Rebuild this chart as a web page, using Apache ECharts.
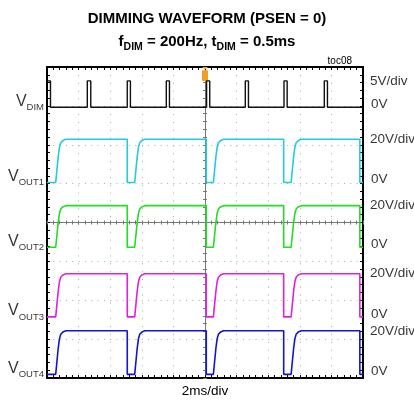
<!DOCTYPE html>
<html><head><meta charset="utf-8">
<script src="https://cdn.jsdelivr.net/npm/echarts@6/dist/echarts.min.js"></script>
<style>html,body{margin:0;padding:0;background:#fff}#c{width:414px;height:403px}</style>
</head><body><div id="c"></div>
<script>
const FONT = '"Liberation Sans",Arial,sans-serif';

// ---- data ----
const traceNames   = ['DIM', 'OUT1', 'OUT2', 'OUT3', 'OUT4'];
const voltsPerDiv  = [5, 20, 20, 20, 20];
const zeroLevelDiv = [6.963, 5.03, 3.363, 1.572, 0.094];   // 0V marker of each trace, in divisions from bottom
const highVolts    = [3.4, 22.2, 21.4, 22.2, 22.4];
const scaleLabels  = ['5V/div', '20V/div', '20V/div', '20V/div', '20V/div'];
const zeroLabels   = ['0V', '0V', '0V', '0V', '0V'];

// V_DIM pulses: [rise ms, fall ms]
const vdimPulses = [[0, 0.22], [2.55, 2.77], [5.08, 5.28], [7.55, 7.75], [10.1, 10.3], [12.55, 12.75], [15.0, 15.2], [17.55, 17.75]];
// outputs: switch-off (fall) and switch-on (rise) instants, ms
const outRiseTimes = [0.55, 5.55, 10.53, 15.45];
const outFallTimes = [5.08, 10.08, 14.98, 19.8];
// rising edge shape: [ms after switch-on, fraction of final level]
const riseProfile = [[0, 0], [0.08, 0.3], [0.16, 0.6], [0.24, 0.82], [0.32, 0.92], [0.45, 0.97], [0.65, 1]];

const timeSpanMs = 20;   // 10 div x 2ms/div
const totalDivs = 8;

// ---- styles ----
const traceColors = ['#111111', '#22ccdd', '#22dd22', '#dd22dd', '#1414d0'];

function toDiv(i, v) { return zeroLevelDiv[i] + v / voltsPerDiv[i]; }

function vdimPoints() {
  const h = highVolts[0], pts = [];
  vdimPulses.forEach(([a, b]) => {
    if (a > 0) pts.push([a, 0]);
    pts.push([a, h], [b, h], [b, 0]);
  });
  pts.push([timeSpanMs, 0]);
  return pts.map(p => [p[0], toDiv(0, p[1])]);
}
function outPoints(i) {
  const h = highVolts[i], pts = [[0, 0]];
  outRiseTimes.forEach((r, k) => {
    riseProfile.forEach(([dt, f]) => pts.push([r + dt, f * h]));
    const f = outFallTimes[k];
    pts.push([f, h], [f, 0]);
  });
  pts.push([timeSpanMs, 0]);
  return pts.map(p => [p[0], toDiv(i, p[1])]);
}

const traceSeries = traceNames.map((n, i) => ({
  type: 'line', name: n, xAxisIndex: 0, yAxisIndex: 0,
  data: i === 0 ? vdimPoints() : outPoints(i),
  showSymbol: false, symbol: 'none', animation: false, z: 5,
  lineStyle: { color: traceColors[i], width: i === 0 ? 1.4 : 1.6 },
  markPoint: i === 0 ? {
    symbol: 'path://M0,0 L10,0 L5,4 Z M1,5 L9,5 Q10,5 10,7 L10,20 Q10,22 8,22 L2,22 Q0,22 0,20 L0,7 Q0,5 1,5 Z',
    symbolSize: [6, 14], symbolOffset: [0, '50%'], silent: true,
    itemStyle: { color: '#f0a020' }, label: { show: false },
    data: [{ coord: [timeSpanMs / 2, totalDivs] }]
  } : undefined
}));

const subRich = {
  v: { fontFamily: FONT, fontSize: 16, color: '#000', lineHeight: 18, verticalAlign: 'bottom' },
  s: { fontFamily: FONT, fontSize: 9.5, color: '#000', lineHeight: 10, verticalAlign: 'bottom', padding: [0, 0, -3, 0] }
};

const leftLabelSeries = {
  type: 'scatter', xAxisIndex: 0, yAxisIndex: 0, symbolSize: 0, silent: true, clip: false, animation: false, z: 6,
  data: traceNames.map((n, i) => ({ value: [0, zeroLevelDiv[i]], sub: n })),
  label: { show: true, position: 'left', distance: 3, offset: [0, -7],
    formatter: p => '{v|V}{s|' + p.data.sub + '}', rich: subRich }
};
const rightScaleSeries = {
  type: 'scatter', xAxisIndex: 0, yAxisIndex: 0, symbolSize: 0, silent: true, clip: false, animation: false, z: 6,
  data: traceNames.map((n, i) => ({ value: [timeSpanMs, toDiv(i, highVolts[i])], t: scaleLabels[i] })),
  label: { show: true, position: 'right', distance: 7, formatter: p => p.data.t,
    fontFamily: FONT, fontSize: 13.5, color: '#000' }
};
const rightZeroSeries = {
  type: 'scatter', xAxisIndex: 0, yAxisIndex: 0, symbolSize: 0, silent: true, clip: false, animation: false, z: 6,
  data: traceNames.map((n, i) => ({ value: [timeSpanMs, zeroLevelDiv[i]], t: zeroLabels[i] })),
  label: { show: true, position: 'right', distance: 8, offset: [0, -3], formatter: p => p.data.t,
    fontFamily: FONT, fontSize: 13.5, color: '#000' }
};

const frameLine = { show: true, onZero: false, lineStyle: { color: '#000', width: 2 } };
const frameTick = { show: true, inside: true, length: 3, lineStyle: { color: '#000', width: 1 } };
const frameMinor = { show: true, splitNumber: 5, length: 3, lineStyle: { color: '#000', width: 1 } };
const noLabel = { show: false };
const centerLine = (idx) => ({ show: true, onZero: true, onZeroAxisIndex: idx, lineStyle: { color: '#777', width: 1 } });
const cTick = (inside) => ({ show: true, inside, length: 2, lineStyle: { color: '#777', width: 1 } });
const cMinor = { show: true, splitNumber: 5, length: 2, lineStyle: { color: '#777', width: 1 } };

const option = {
  backgroundColor: '#fff',
  animation: false,
  title: {
    left: 'center', top: 4,
    text: 'DIMMING WAVEFORM (PSEN = 0)\n{m|f}{s|DIM}{m| = 200Hz, t}{s|DIM}{m| = 0.5ms}',
    textStyle: {
      fontFamily: FONT, fontWeight: 'bold', fontSize: 15, lineHeight: 20, color: '#000',
      rich: {
        m: { fontFamily: FONT, fontWeight: 'bold', fontSize: 15, lineHeight: 20, verticalAlign: 'bottom', color: '#000' },
        s: { fontFamily: FONT, fontWeight: 'bold', fontSize: 10.5, lineHeight: 10, verticalAlign: 'bottom', padding: [0, 0, -4, 0], color: '#000' }
      }
    }
  },
  graphic: [{
    type: 'text', right: 62, top: 56,
    style: { text: 'toc08', font: '10px ' + FONT, fill: '#000' }
  }],
  grid: { left: 47, right: 51, top: 67, bottom: 22, show: false },
  xAxis: [
    { type: 'value', min: 0, max: timeSpanMs, interval: 2, position: 'bottom',
      axisLine: frameLine, axisTick: frameTick, minorTick: frameMinor, axisLabel: noLabel,
      splitLine: { show: true, lineStyle: { color: '#aaa', width: 1, type: [1, 6.85] } },
      name: '2ms/div', nameLocation: 'middle', nameGap: 6,
      nameTextStyle: { fontFamily: FONT, fontSize: 13.5, color: '#000', verticalAlign: 'top' } },
    { type: 'value', min: 0, max: timeSpanMs, interval: 2, position: 'top',
      axisLine: frameLine, axisTick: frameTick, minorTick: frameMinor, axisLabel: noLabel, splitLine: { show: false } },
    { type: 'value', min: -10, max: 10, interval: 2, position: 'bottom',
      axisLine: centerLine(2), axisTick: cTick(true), minorTick: cMinor, axisLabel: noLabel, splitLine: { show: false } },
    { type: 'value', min: -10, max: 10, interval: 2, position: 'bottom',
      axisLine: centerLine(2), axisTick: cTick(false), minorTick: cMinor, axisLabel: noLabel, splitLine: { show: false } }
  ],
  yAxis: [
    { type: 'value', min: 0, max: totalDivs, interval: 1, position: 'left',
      axisLine: frameLine, axisTick: frameTick, minorTick: frameMinor, axisLabel: noLabel,
      splitLine: { show: true, lineStyle: { color: '#aaa', width: 1, type: [1, 5.32] } } },
    { type: 'value', min: 0, max: totalDivs, interval: 1, position: 'right',
      axisLine: frameLine, axisTick: frameTick, minorTick: frameMinor, axisLabel: noLabel, splitLine: { show: false } },
    { type: 'value', min: -4, max: 4, interval: 1, position: 'left',
      axisLine: centerLine(2), axisTick: cTick(true), minorTick: cMinor, axisLabel: noLabel, splitLine: { show: false } },
    { type: 'value', min: -4, max: 4, interval: 1, position: 'left',
      axisLine: centerLine(2), axisTick: cTick(false), minorTick: cMinor, axisLabel: noLabel, splitLine: { show: false } }
  ],
  series: [...traceSeries, leftLabelSeries, rightScaleSeries, rightZeroSeries]
};

const chart = echarts.init(document.getElementById('c'), null, { renderer: 'canvas' });
chart.setOption(option);
</script></body></html>
